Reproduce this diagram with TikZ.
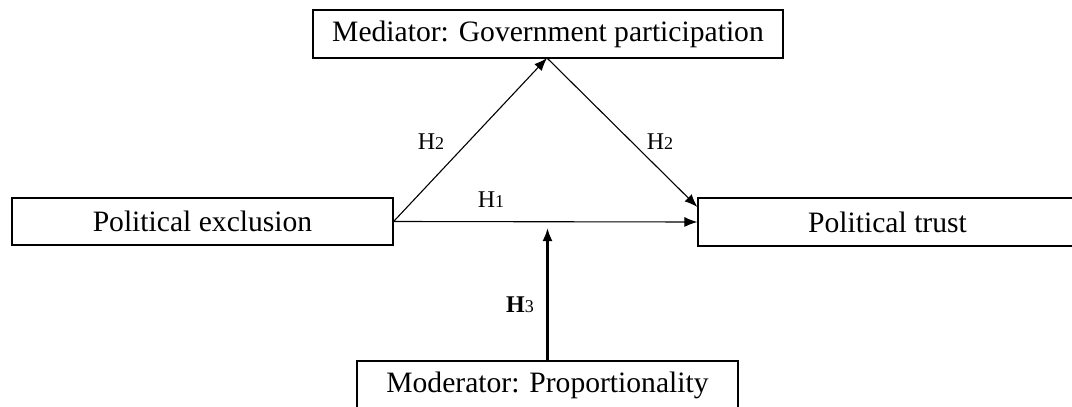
\documentclass[tikz,border=0pt]{standalone}
\usepackage{fontspec}
\setmainfont{Liberation Serif}
\usetikzlibrary{arrows.meta}
\begin{document}
\begin{tikzpicture}[x=1pt,y=-1pt,
  box/.style={draw, line width=1.2pt, inner sep=0pt, font=\fontsize{29.6}{32}\selectfont},
  conn/.style={line width=1.1pt, -{Latex[length=13pt,width=10pt]}},
  thickconn/.style={line width=2.2pt, -{Latex[length=13pt,width=10pt]}},
  lab/.style={inner sep=0pt}]
\useasboundingbox (0,0) rectangle (1072,407);
\clip (0,0) rectangle (1072,407);
\node[box, minimum width=470pt, minimum height=48pt] (med) at (548,34) {Mediator: Government participation};
\node[box, minimum width=381pt, minimum height=47pt] (excl) at (202.5,221.5) {Political exclusion};
\node[box, minimum width=379pt, minimum height=48pt] (trust) at (887.5,222) {Political trust};
\node[box, minimum width=381pt, minimum height=48pt] (mod) at (547.5,385) {Moderator: Proportionality};
\coordinate (apex) at (547,58);
\coordinate (t2) at ([yshift=15pt]trust.west);
\coordinate (h3end) at (547.5,228);
\draw[conn] (excl.east) -- (trust.west);
\draw[conn] (excl.east) -- (apex);
\draw[conn] (apex) -- (t2);
\draw[thickconn] (mod.north) -- (h3end);
\node[lab] (l2a) at (431,142) {\fontsize{24}{24}\selectfont H\fontsize{18}{18}\selectfont 2};
\node[lab] (l2b) at (660,142) {\fontsize{24}{24}\selectfont H\fontsize{18}{18}\selectfont 2};
\node[lab] (l1) at (491,200) {\fontsize{24}{24}\selectfont H\fontsize{18}{18}\selectfont 1};
\node[lab] (l3) at (520,305) {\fontsize{24}{24}\selectfont\bfseries H\fontsize{18}{18}\selectfont\mdseries 3};
\end{tikzpicture}
\end{document}
